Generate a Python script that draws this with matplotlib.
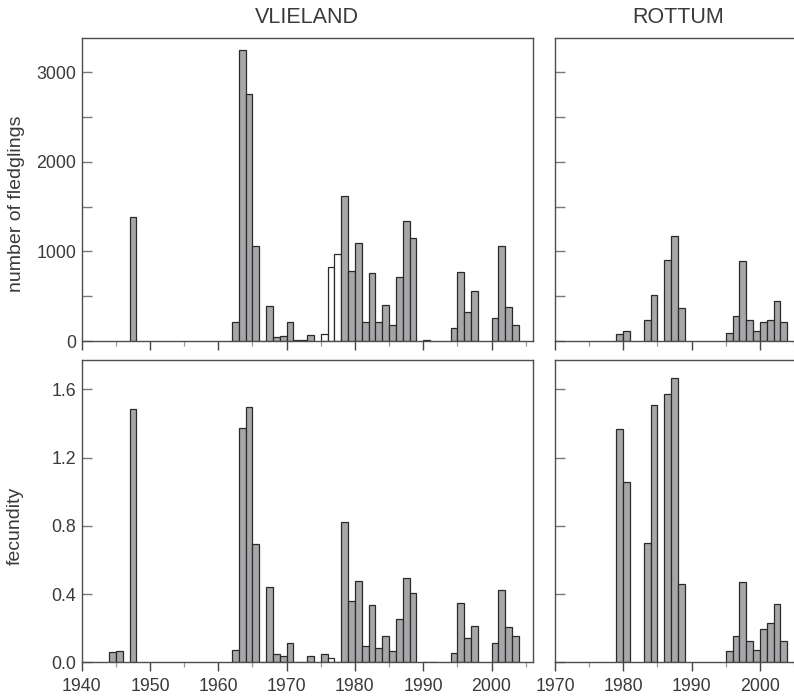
import matplotlib
matplotlib.use("Agg")
import matplotlib.pyplot as plt
from matplotlib.ticker import MultipleLocator, FixedLocator, FixedFormatter

plt.rcParams['font.family'] = ['Liberation Sans', 'DejaVu Sans']

# ---------------- data ----------------
vl_years_f = [1947, 1962, 1963, 1964, 1965, 1966, 1967, 1968, 1969, 1970, 1971, 1972,
              1973, 1975, 1976, 1977, 1978, 1979, 1980, 1981, 1982, 1983, 1984, 1985,
              1986, 1987, 1988, 1990, 1994, 1995, 1996, 1997, 2000, 2001, 2002, 2003]
vl_fledglings = [1380, 215, 3248, 2757, 1060, 3, 390, 45, 55, 215, 6, 6,
                 65, 75, 830, 975, 1622, 777, 1090, 216, 755, 216, 405, 175,
                 714, 1343, 1150, 8, 145, 770, 327, 554, 253, 1060, 383, 175]
vl_hollow_f = [1975, 1976, 1977]

vl_years_c = [1944, 1945, 1947, 1962, 1963, 1964, 1965, 1966, 1967, 1968, 1969, 1970,
              1971, 1972, 1973, 1975, 1976, 1977, 1978, 1979, 1980, 1981, 1982, 1983,
              1984, 1985, 1986, 1987, 1988, 1990, 1991, 1994, 1995, 1996, 1997, 2000,
              2001, 2002, 2003]
vl_fecundity = [0.059, 0.066, 1.487, 0.074, 1.375, 1.494, 0.695, 0.004, 0.443, 0.047, 0.035, 0.115,
                0.003, 0.003, 0.037, 0.051, 0.023, 0.004, 0.822, 0.361, 0.475, 0.098, 0.334, 0.084,
                0.154, 0.066, 0.252, 0.492, 0.404, 0.004, 0.004, 0.057, 0.346, 0.141, 0.213, 0.111,
                0.424, 0.209, 0.152]
vl_hollow_c = [1976, 1977]

ro_years = [1979, 1980, 1983, 1984, 1986, 1987, 1988, 1995, 1996, 1997, 1998, 1999,
            2000, 2001, 2002, 2003]
ro_fledglings = [78, 108, 234, 517, 900, 1175, 364, 86, 275, 892, 234, 115,
                 216, 230, 446, 216]
ro_fecundity = [1.366, 1.055, 0.699, 1.510, 1.571, 1.666, 0.459, 0.064, 0.154, 0.473, 0.127, 0.074,
                0.197, 0.229, 0.342, 0.127]

site_titles = ["VLIELAND", "ROTTUM"]
ylabel_top = "number of fledglings"
ylabel_bottom = "fecundity"
fledg_ticks = [0, 1000, 2000, 3000]
fec_ticks = [0.0, 0.4, 0.8, 1.2, 1.6]

# ---------------- style ----------------
W, H = 794, 698
FILL = '#a7a7aa'
EDGE = '#2a2a2a'
SPINE = '#4d4d4d'
TXT = '#3a3a3a'

fig = plt.figure(figsize=(W / 100, H / 100), dpi=100)

def px_axes(left, top, right, bottom):
    return fig.add_axes([left / W, 1 - bottom / H, (right - left) / W, (bottom - top) / H])

v_left, v_right = 81.7, 532.5
r_left = 555.0
r_right = r_left + (v_right - v_left) * 36 / 66
t_top, t_bot = 38.0, 341.0
b_top, b_bot = 360.0, 662.3

ax_vt = px_axes(v_left, t_top, v_right, t_bot)
ax_rt = px_axes(r_left, t_top, r_right, t_bot)
ax_vb = px_axes(v_left, b_top, v_right, b_bot)
ax_rb = px_axes(r_left, b_top, r_right, b_bot)

def bars(ax, years, vals, hollow):
    colors = ['white' if y in hollow else FILL for y in years]
    ax.bar(years, vals, width=1.0, align='edge', color=colors, edgecolor=EDGE,
           linewidth=0.9, zorder=2)

bars(ax_vt, vl_years_f, vl_fledglings, vl_hollow_f)
bars(ax_vb, vl_years_c, vl_fecundity, vl_hollow_c)
bars(ax_rt, ro_years, ro_fledglings, [])
bars(ax_rb, ro_years, ro_fecundity, [])

def style(ax, xlim, xlabels_on, yticks, ylabels_on, ylim, yfmt, yminor=None):
    ax.set_xlim(*xlim)
    ax.set_ylim(*ylim)
    for s in ax.spines.values():
        s.set_color(SPINE)
        s.set_linewidth(1.0)
    ax.xaxis.set_major_locator(MultipleLocator(10))
    ax.xaxis.set_minor_locator(MultipleLocator(5))
    ax.tick_params(axis='x', which='major', direction='out', length=6.5, width=1.0,
                   color='#444444', labelsize=12.8, labelcolor=TXT, pad=5,
                   labelbottom=xlabels_on)
    ax.tick_params(axis='x', which='minor', direction='out', length=3.5, width=0.9,
                   color='#9a9a9a')
    ax.yaxis.set_major_locator(FixedLocator(yticks))
    ax.yaxis.set_major_formatter(FixedFormatter([yfmt(v) for v in yticks]))
    if yminor is not None:
        ax.yaxis.set_minor_locator(FixedLocator(yminor))
    ax.tick_params(axis='y', which='both', direction='in', length=7.5, width=1.0,
                   color='#7a7a7a', labelsize=12.8, labelcolor=TXT, pad=4,
                   labelleft=ylabels_on)

fmt_int = lambda v: f"{int(v)}"
fmt_dec = lambda v: f"{v:.1f}"
style(ax_vt, (1940, 2006), False, fledg_ticks, True, (0, 3380), fmt_int, [500, 1500, 2500])
style(ax_rt, (1970, 2006), False, fledg_ticks, False, (0, 3380), fmt_int, [500, 1500, 2500])
style(ax_vb, (1940, 2006), True, fec_ticks, True, (0, 1.772), fmt_dec)
style(ax_rb, (1970, 2006), True, fec_ticks, False, (0, 1.772), fmt_dec)

ax_vt.set_title(site_titles[0], fontsize=15.5, color=TXT, pad=11)
ax_rt.set_title(site_titles[1], fontsize=15.5, color=TXT, pad=11)

fig.text(16.5 / W, 1 - 204 / H, ylabel_top, rotation=90, ha='center', va='center',
         fontsize=14, color=TXT)
fig.text(15.5 / W, 1 - 526 / H, ylabel_bottom, rotation=90, ha='center', va='center',
         fontsize=14, color=TXT)

fig.savefig("out.png", dpi=100)
